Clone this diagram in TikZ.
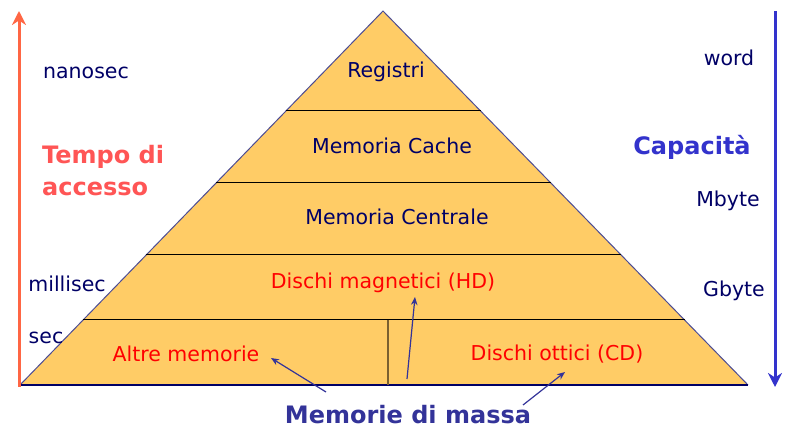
\documentclass[tikz,border=0pt]{standalone}
\usepackage{fontspec}
\setmainfont{DejaVu Sans}
\usetikzlibrary{arrows.meta,calc}
\definecolor{fillpyr}{HTML}{FFCC66}
\definecolor{navy}{HTML}{000066}
\definecolor{redtxt}{HTML}{FF0000}
\definecolor{tempocol}{HTML}{FF5555}
\definecolor{capcol}{HTML}{3333CC}
\definecolor{massacol}{HTML}{333399}
\definecolor{leftarr}{HTML}{FF6644}
\definecolor{divcol}{HTML}{7A6030}
\tikzset{
  lbl/.style={font=\fontsize{20.5}{24}\selectfont, text=navy, inner sep=0pt},
  redlbl/.style={font=\fontsize{20.5}{24}\selectfont, text=redtxt, inner sep=0pt},
  boldlbl/.style={font=\bfseries\fontsize{24}{32}\selectfont, inner sep=0pt},
  thinarr/.style={draw=massacol, line width=1.2pt, -{Stealth[length=8pt,width=6.5pt]}},
  sidearr/.style={line width=3pt, -{Stealth[length=14pt,width=14pt]}},
}
\begin{document}
\begin{tikzpicture}[x=1pt,y=-1pt]
\useasboundingbox (0,0) rectangle (785,438);
% pyramid
\coordinate (apex) at (383,11);
\coordinate (bl) at (20,385);
\coordinate (br) at (748,385);
\fill[fillpyr] (apex) -- (bl) -- (br) -- cycle;
\draw[navy!70, line width=1pt] (bl) -- (apex) -- (br);
\draw[navy, line width=1.2pt] (bl) -- (br);
% tier lines
\foreach \yy in {111,183,255,320}{
  \draw[black, line width=1pt] ($(apex)!{(\yy-11)/374}!(bl)$) -- ($(apex)!{(\yy-11)/374}!(br)$);
}
\draw[divcol, line width=1.2pt] (388,320) -- (388,385);
% side arrows
\coordinate (lbot) at (19,387); \coordinate (ltop) at (19,11);
\coordinate (rtop) at (775,11); \coordinate (rbot) at (775,387);
\draw[sidearr, leftarr] (lbot) -- (ltop);
\draw[sidearr, capcol] (rtop) -- (rbot);
% left labels
\node[lbl] (nano) at (86,73) {nanosec};
\node[boldlbl, text=tempocol, align=left, anchor=west] (tempo) at (42,171) {Tempo di\\accesso};
\node[lbl] (milli) at (67,284) {millisec};
\node[lbl] (sec) at (46,338) {sec};
% right labels
\node[lbl] (word) at (729,58) {word};
\node[boldlbl, text=capcol] (cap) at (692,147) {Capacità};
\node[lbl] (mb) at (728,201) {Mbyte};
\node[lbl] (gb) at (734,291) {Gbyte};
% pyramid labels
\node[lbl] (reg) at (386,72) {Registri};
\node[lbl] (cache) at (392,146) {Memoria Cache};
\node[lbl] (centr) at (397,217) {Memoria Centrale};
\node[redlbl] (hd) at (383,283) {Dischi magnetici (HD)};
\node[redlbl] (altre) at (186,354) {Altre memorie};
\node[redlbl] (cd) at (557,354) {Dischi ottici (CD)};
\node[boldlbl, text=massacol] (massa) at (408,415) {Memorie di massa};
% arrows
\coordinate (s1) at (326,392); \coordinate (e1) at (271,358);
\coordinate (s2) at (407,379); \coordinate (e2) at (415,297);
\coordinate (s3) at (523,405); \coordinate (e3) at (565,372);
\draw[thinarr] (s1) -- (e1);
\draw[thinarr] (s2) -- (e2);
\draw[thinarr] (s3) -- (e3);
\end{tikzpicture}
\end{document}
